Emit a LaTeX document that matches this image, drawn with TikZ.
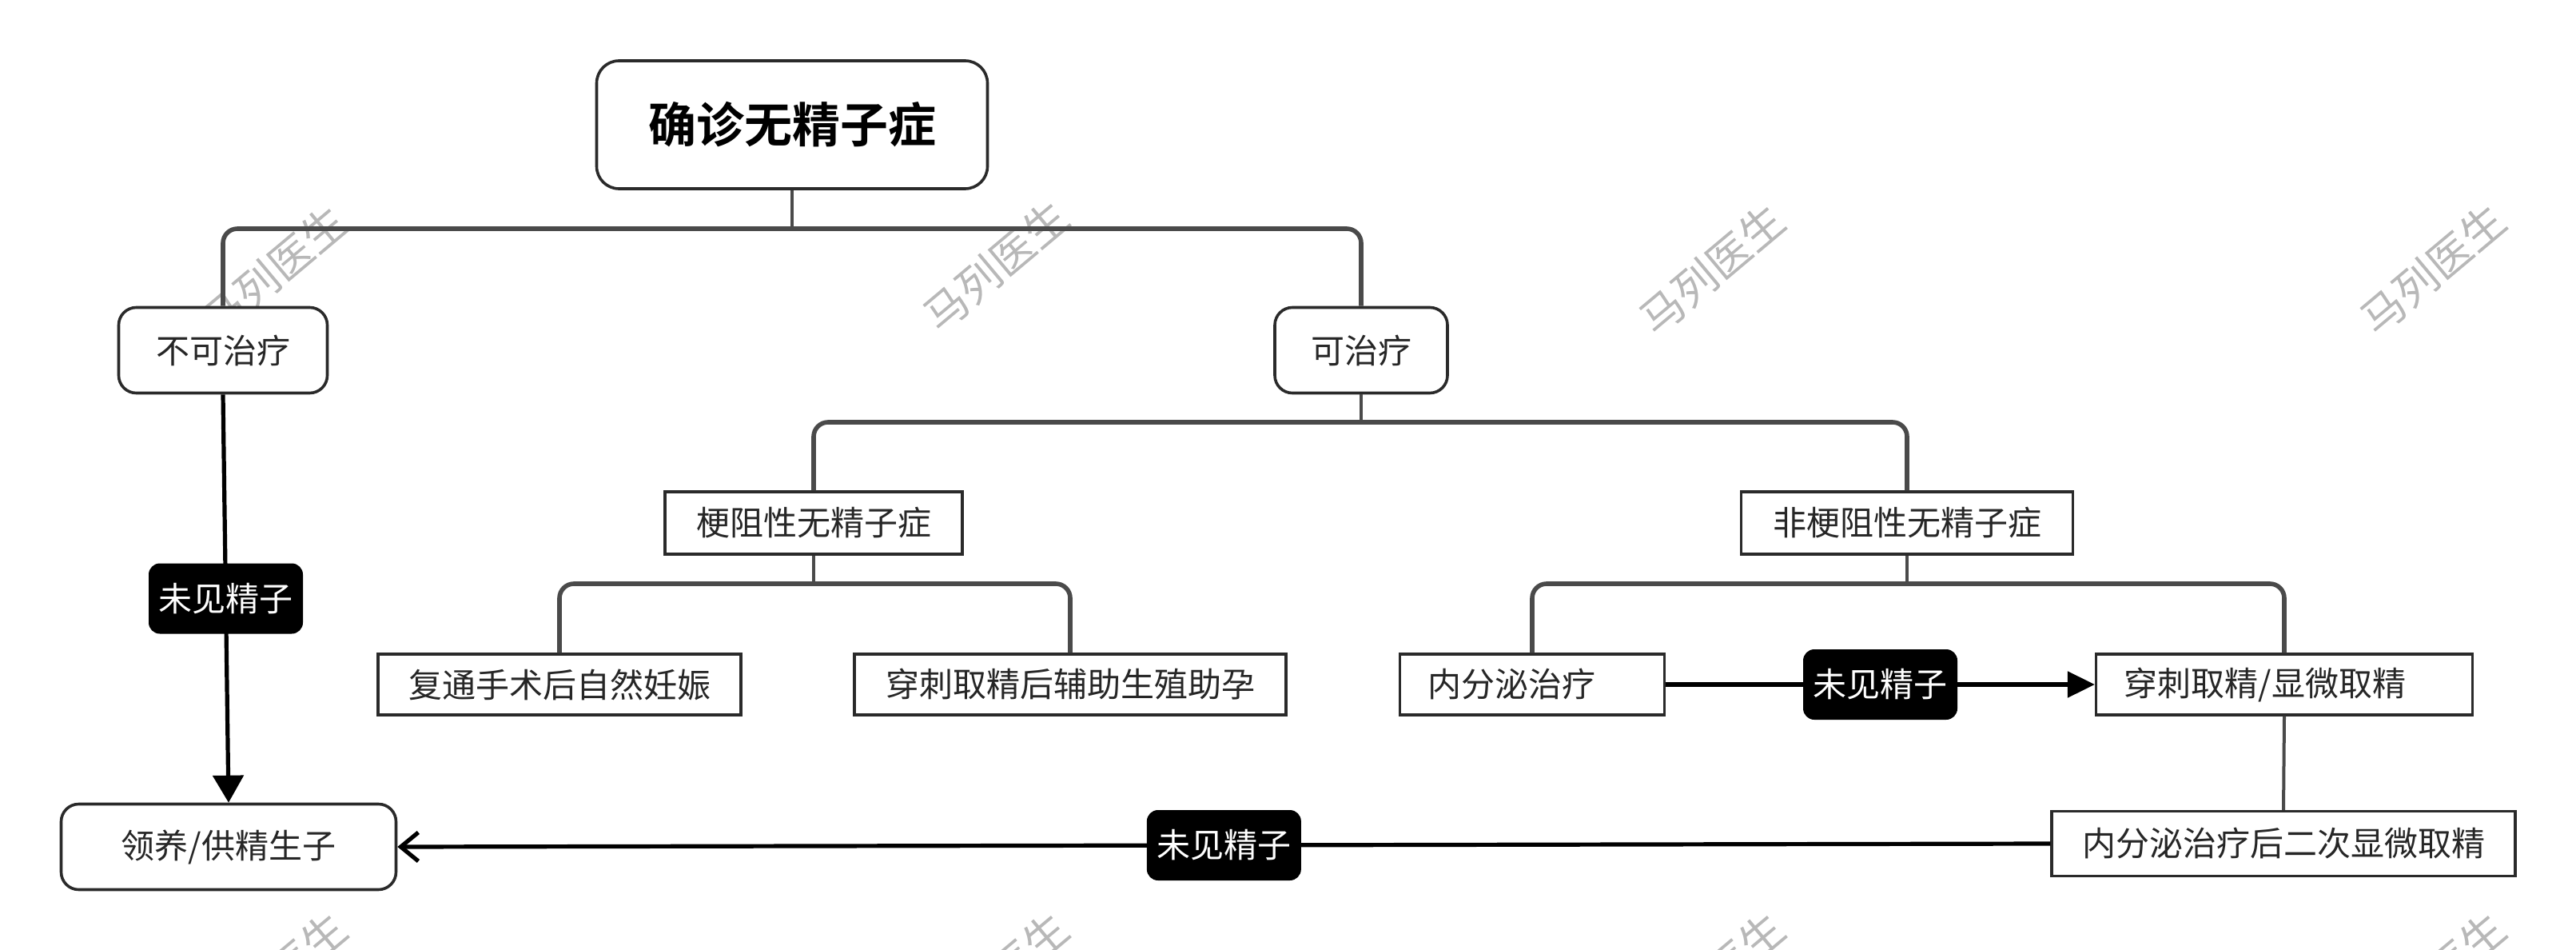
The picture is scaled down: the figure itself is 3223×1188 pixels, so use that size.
\documentclass[tikz,border=0pt]{standalone}
\usepackage{fontspec}
\setmainfont{Noto Sans CJK SC}[BoldFont={Noto Sans CJK SC Bold}]
\usetikzlibrary{arrows.meta}
\definecolor{treeline}{HTML}{4A4A4A}
\definecolor{boxline}{HTML}{2A2A2A}
\definecolor{wmark}{HTML}{B8B8B8}
\tikzset{
  rbox/.style={draw=boxline, line width=1.8pt, rounded corners=11pt, fill=white, text=black!85, font=\fontsize{21pt}{25pt}\selectfont, align=center, inner sep=0pt},
  sbox/.style={draw=boxline, line width=1.6pt, fill=white, text=black!85, font=\fontsize{21pt}{25pt}\selectfont, align=center, inner sep=0pt, minimum height=38pt},
  tag/.style={fill=black, rounded corners=7pt, text=white, font=\fontsize{21pt}{25pt}\selectfont, inner sep=0pt, minimum width=96.5pt, minimum height=44pt},
  tree/.style={draw=treeline, line width=2.8pt, rounded corners=9pt},
  stub/.style={draw=treeline, line width=2.3pt},
  flow/.style={draw=black, line width=2.6pt},
  wm/.style={text=wmark, rotate=40, font=\fontsize{27pt}{30pt}\selectfont, inner sep=0pt}
}
\begin{document}
\begin{tikzpicture}[x=0.5pt,y=-0.5pt]
\useasboundingbox (0,0) rectangle (3223,1188);
\clip (0,0) rectangle (3223,1188);
% watermarks
\foreach \wx/\wy [count=\i] in {343/339,1246/333,2142/337,3044/337,343/1223,1246/1223,2142/1223,3044/1223}
  \node[wm] (wm\i) at (\wx,\wy) {马列医生};
% nodes
\node[rbox, minimum width=244.5pt, minimum height=80pt, rounded corners=14pt, font=\fontsize{30pt}{34pt}\selectfont\bfseries, text=black] (root) at (991,156) {确诊无精子症};
\node[rbox, minimum width=130.5pt, minimum height=53.5pt] (nz) at (279,438) {不可治疗};
\node[rbox, minimum width=108pt, minimum height=53.5pt] (kz) at (1703,438) {可治疗};
\node[rbox, minimum width=209.5pt, minimum height=53.5pt] (ly) at (286,1059) {领养/供精生子};
\node[sbox, minimum width=186pt, minimum height=39pt] (gz) at (1018,654) {梗阻性无精子症};
\node[sbox, minimum width=207.5pt, minimum height=39pt] (fgz) at (2386,654) {非梗阻性无精子症};
\node[sbox, minimum width=227pt] (ft) at (700,856) {复通手术后自然妊娠};
\node[sbox, minimum width=270pt] (cc) at (1339,856) {穿刺取精后辅助生殖助孕};
\node[sbox, minimum width=165.5pt] (nf) at (1917,856) {内分泌治疗\hspace{26pt}};
\node[sbox, minimum width=235.5pt] (cq) at (2858,856) {穿刺取精/显微取精\hspace{24pt}};
\node[sbox, minimum width=290pt, minimum height=40.5pt] (ec) at (2857,1055) {内分泌治疗后二次显微取精};
% bus coordinates
\coordinate (b1) at (991,286);
\coordinate (b2) at (1703,528);
\coordinate (b3) at (1018,730);
\coordinate (b4) at (2386,730);
% tree connectors
\draw[stub] (root.south) -- (b1);
\draw[tree] (nz.north) |- (b1) -| (kz.north);
\draw[stub] (kz.south) -- (b2);
\draw[tree] (gz.north) |- (b2) -| (fgz.north);
\draw[stub] (gz.south) -- (b3);
\draw[tree] (ft.north) |- (b3) -| (cc.north);
\draw[stub] (fgz.south) -- (b4);
\draw[tree] (nf.north) |- (b4) -| (cq.north);
\draw[stub, line width=2pt] (cq.south) -- (ec.north);
% flow arrows
\draw[flow, -{Triangle[length=17pt,width=19pt]}] (nz.south) -- (ly.north) node[tag, pos=0.5] (t1) {未见精子};
\draw[flow, -{Triangle[length=17pt,width=16pt]}] (nf.east) -- (cq.west) node[tag, pos=0.5] (t2) {未见精子};
\draw[flow, -{Straight Barb[length=11pt,width=18pt,line width=2.6pt]}] (ec.west) -- (ly.east) node[tag, pos=0.5] (t3) {未见精子};
\end{tikzpicture}
\end{document}
